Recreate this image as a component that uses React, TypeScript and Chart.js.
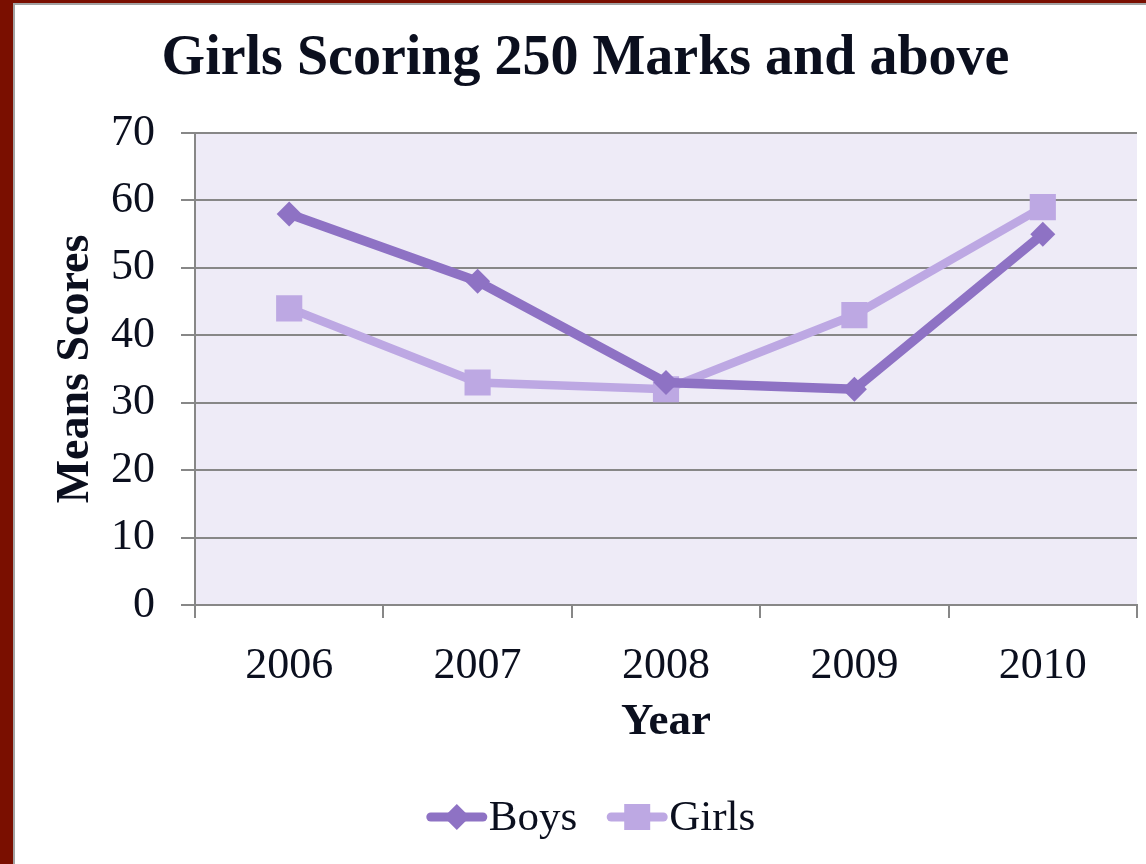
import React, { useEffect, useRef } from "react";
import { Chart, registerables } from "chart.js";

Chart.register(...registerables);

const years = ["2006", "2007", "2008", "2009", "2010"];
const boysScores = [58, 48, 33, 32, 55];
const girlsScores = [44, 33, 32, 43, 59];
const seriesNames = ["Boys", "Girls"];
const chartTitle = "Girls Scoring 250 Marks and above";
const xTitle = "Year";
const yTitle = "Means Scores";

const FONT = "'Liberation Serif', 'DejaVu Serif', serif";
const TEXT = "#0b0f1e";
const GRID = "#878787";
const BOYS = "#8e72c4";
const GIRLS = "#bda8e3";
const PLOT_BG = "#eeebf7";

function drawMarker(ctx: CanvasRenderingContext2D, style: string, x: number, y: number, r: number, color: string) {
  ctx.fillStyle = color;
  ctx.beginPath();
  if (style === "rectRot") {
    ctx.moveTo(x, y - r);
    ctx.lineTo(x + r, y);
    ctx.lineTo(x, y + r);
    ctx.lineTo(x - r, y);
    ctx.closePath();
  } else {
    ctx.rect(x - r, y - r, 2 * r, 2 * r);
  }
  ctx.fill();
}

const bgPlugin = {
  id: "plotBg",
  beforeDraw(chart: any) {
    const { ctx, chartArea } = chart;
    ctx.save();
    ctx.fillStyle = PLOT_BG;
    ctx.fillRect(chartArea.left, chartArea.top, chartArea.right - chartArea.left, chartArea.bottom - chartArea.top);
    ctx.restore();
  },
};

const legendPlugin = {
  id: "lineLegend",
  afterDraw(chart: any) {
    const ctx: CanvasRenderingContext2D = chart.ctx;
    ctx.save();
    ctx.font = `43px ${FONT}`;
    const lineW = 60;
    const gapText = 2;
    const gapItem = 30;
    const items = chart.data.datasets.map((ds: any) => ({ ds, w: ctx.measureText(ds.label).width }));
    const total =
      items.reduce((s: number, it: any) => s + lineW + gapText + it.w, 0) + gapItem * (items.length - 1);
    let x = 591 - total / 2;
    const y = 817;
    items.forEach(({ ds, w }: any) => {
      ctx.strokeStyle = ds.borderColor;
      ctx.lineWidth = 9;
      ctx.lineCap = "round";
      ctx.beginPath();
      ctx.moveTo(x + 4, y);
      ctx.lineTo(x + lineW - 4, y);
      ctx.stroke();
      drawMarker(ctx, ds.pointStyle, x + lineW / 2, y, 13, ds.pointBackgroundColor);
      ctx.fillStyle = TEXT;
      ctx.textAlign = "left";
      ctx.textBaseline = "middle";
      ctx.fillText(ds.label, x + lineW + gapText, y + 2);
      x += lineW + gapText + w + gapItem;
    });
    ctx.restore();
  },
};

export default function App() {
  const ref = useRef<HTMLCanvasElement | null>(null);

  useEffect(() => {
    if (!ref.current) return;
    const chart = new Chart(ref.current, {
      type: "line",
      data: {
        labels: years,
        datasets: [
          {
            label: seriesNames[0],
            data: boysScores,
            borderColor: BOYS,
            backgroundColor: BOYS,
            pointBackgroundColor: BOYS,
            pointBorderColor: BOYS,
            borderWidth: 9.5,
            pointStyle: "rectRot",
            pointRadius: 12.5,
            pointBorderWidth: 0,
            tension: 0,
          },
          {
            label: seriesNames[1],
            data: girlsScores,
            borderColor: GIRLS,
            backgroundColor: GIRLS,
            pointBackgroundColor: GIRLS,
            pointBorderColor: GIRLS,
            borderWidth: 8.5,
            pointStyle: "rect",
            pointRadius: 18.5,
            pointBorderWidth: 0,
            tension: 0,
          },
        ],
      },
      options: {
        responsive: false,
        animation: false,
        layout: { autoPadding: false, padding: { left: 34, right: 9, top: 0, bottom: 115 } },
        plugins: {
          legend: { display: false },
          tooltip: { enabled: false },
          title: {
            display: true,
            text: chartTitle,
            color: TEXT,
            font: { family: FONT, size: 56, weight: "bold" },
            padding: { top: 26, bottom: 39.8 },
          },
        },
        scales: {
          x: {
            offset: true,
            grid: {
              offset: true,
              drawOnChartArea: false,
              drawTicks: true,
              tickLength: 13,
              color: GRID,
              lineWidth: 2,
            },
            border: { color: GRID, width: 2 },
            ticks: { color: TEXT, font: { family: FONT, size: 44 }, padding: 22 },
            title: {
              display: true,
              text: xTitle,
              color: TEXT,
              font: { family: FONT, size: 45, weight: "bold" },
              padding: { top: 0, bottom: 0 },
            },
            afterFit(scale: any) {
              scale.height = 144;
              scale.paddingLeft = 0;
              scale.paddingRight = 0;
            },
          },
          y: {
            min: 0,
            max: 70,
            ticks: {
              stepSize: 10,
              color: TEXT,
              font: { family: FONT, size: 44 },
              padding: 26,
            },
            grid: { color: GRID, lineWidth: 2, tickLength: 14 },
            border: { color: GRID, width: 2 },
            title: {
              display: true,
              text: yTitle,
              color: TEXT,
              font: { family: FONT, size: 46, weight: "bold" },
              padding: { top: 15, bottom: 0 },
            },
            afterFit(scale: any) {
              scale.width = 161;
            },
          },
        },
      },
      plugins: [bgPlugin, legendPlugin],
    });
    return () => chart.destroy();
  }, []);

  return (
    <div style={{ position: "fixed", left: 0, top: 0, width: 1146, height: 864, background: "#7a0f00" }}>
      <div
        style={{
          position: "absolute",
          left: 13,
          top: 3,
          right: 0,
          bottom: 0,
          background: "#ffffff",
          borderLeft: "2px solid #a3a3a3",
          borderTop: "2px solid #a3a3a3",
        }}
      />
      <canvas ref={ref} width={1146} height={864} style={{ position: "absolute", left: 0, top: 0 }} />
    </div>
  );
}
